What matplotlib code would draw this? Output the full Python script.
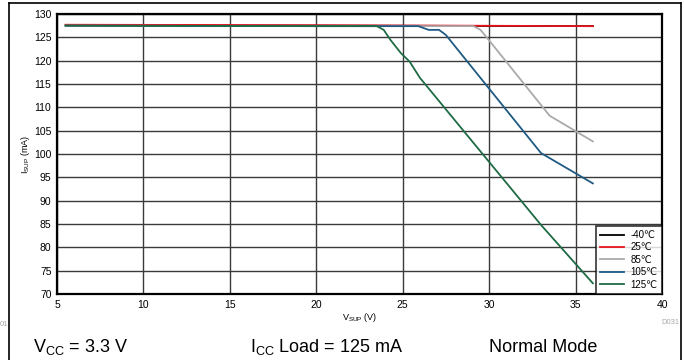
import matplotlib
matplotlib.use("Agg")
import matplotlib.pyplot as plt
from matplotlib.lines import Line2D

plt.rcParams['font.family'] = ['Liberation Sans', 'DejaVu Sans']

# data
v_m40 = [5.5, 20, 36]
i_m40 = [127.6, 127.5, 127.4]
v_25 = [5.5, 20, 36]
i_25 = [127.7, 127.6, 127.4]
v_85 = [5.5, 20, 29.1, 29.5, 29.9, 33.5, 36]
i_85 = [127.5, 127.4, 127.4, 126.6, 124.8, 108.2, 102.7]
v_105 = [5.5, 20, 25.9, 26.5, 27.1, 27.5, 33.0, 36]
i_105 = [127.5, 127.4, 127.4, 126.6, 126.6, 125.5, 100.2, 93.7]
v_125 = [5.5, 20, 23.5, 23.9, 24.3, 24.9, 25.4, 26.0, 33.0, 36]
i_125 = [127.5, 127.4, 127.4, 126.6, 124.4, 121.6, 119.8, 116.3, 84.8, 72.3]

series = [
    (v_m40, i_m40, '-40℃', '#000000'),
    (v_25, i_25, '25℃', '#e8141c'),
    (v_85, i_85, '85℃', '#aaaaaa'),
    (v_105, i_105, '105℃', '#1f5a84'),
    (v_125, i_125, '125℃', '#1e6b45'),
]

fig = plt.figure(figsize=(6.84, 3.6), dpi=100)
ax = fig.add_axes([57/684, 1-294/360, 605/684, 280/360])

for v, i, lab, col in series:
    ax.plot(v, i, color=col, lw=1.3, label=lab, zorder=3)

ax.set_xlim(5, 40)
ax.set_ylim(70, 130)
ax.set_xticks(range(5, 41, 5))
ax.set_yticks(range(70, 131, 5))
ax.grid(True, color='#3a3a3a', lw=1.0, zorder=1)
ax.tick_params(length=0, labelsize=7.5, pad=4)
for s in ax.spines.values():
    s.set_linewidth(1.6)
    s.set_color('black')

ax.set_xlabel('V$_{\\mathregular{SUP}}$ (V)', fontsize=6.5, labelpad=1)
ax.set_ylabel('I$_{\\mathregular{SUP}}$ (mA)', fontsize=6.5, labelpad=0)
ax.yaxis.set_label_coords(-25/605, 0.5)

leg = ax.legend(loc='lower right', fontsize=7, frameon=True, fancybox=False,
                borderaxespad=0, handlelength=2.4, labelspacing=0.25,
                handletextpad=0.7, borderpad=0.45)
leg.get_frame().set_edgecolor('black')
leg.get_frame().set_linewidth(1.2)

# outer frame
fig.add_artist(Line2D([9/684, 9/684], [0, 1-3/360], color='black', lw=1.2))
fig.add_artist(Line2D([681/684, 681/684], [0, 1-3/360], color='black', lw=1.2))
fig.add_artist(Line2D([9/684, 681/684], [1-3/360, 1-3/360], color='black', lw=1.2))

fig.text(0/684, 1-325/360, '01', fontsize=5.5, color='#aaaaaa', va='center', ha='left')
fig.text(680/684, 1-323/360, 'D031', fontsize=5.5, color='#aaaaaa', va='center', ha='right')

fig.text(33/684, 1-352/360, 'V$_{\\mathregular{CC}}$ = 3.3 V', fontsize=13, va='baseline')
fig.text(250/684, 1-352/360, 'I$_{\\mathregular{CC}}$ Load = 125 mA', fontsize=13, va='baseline')
fig.text(489/684, 1-352/360, 'Normal Mode', fontsize=13, va='baseline')

fig.savefig('out.png', dpi=100)
